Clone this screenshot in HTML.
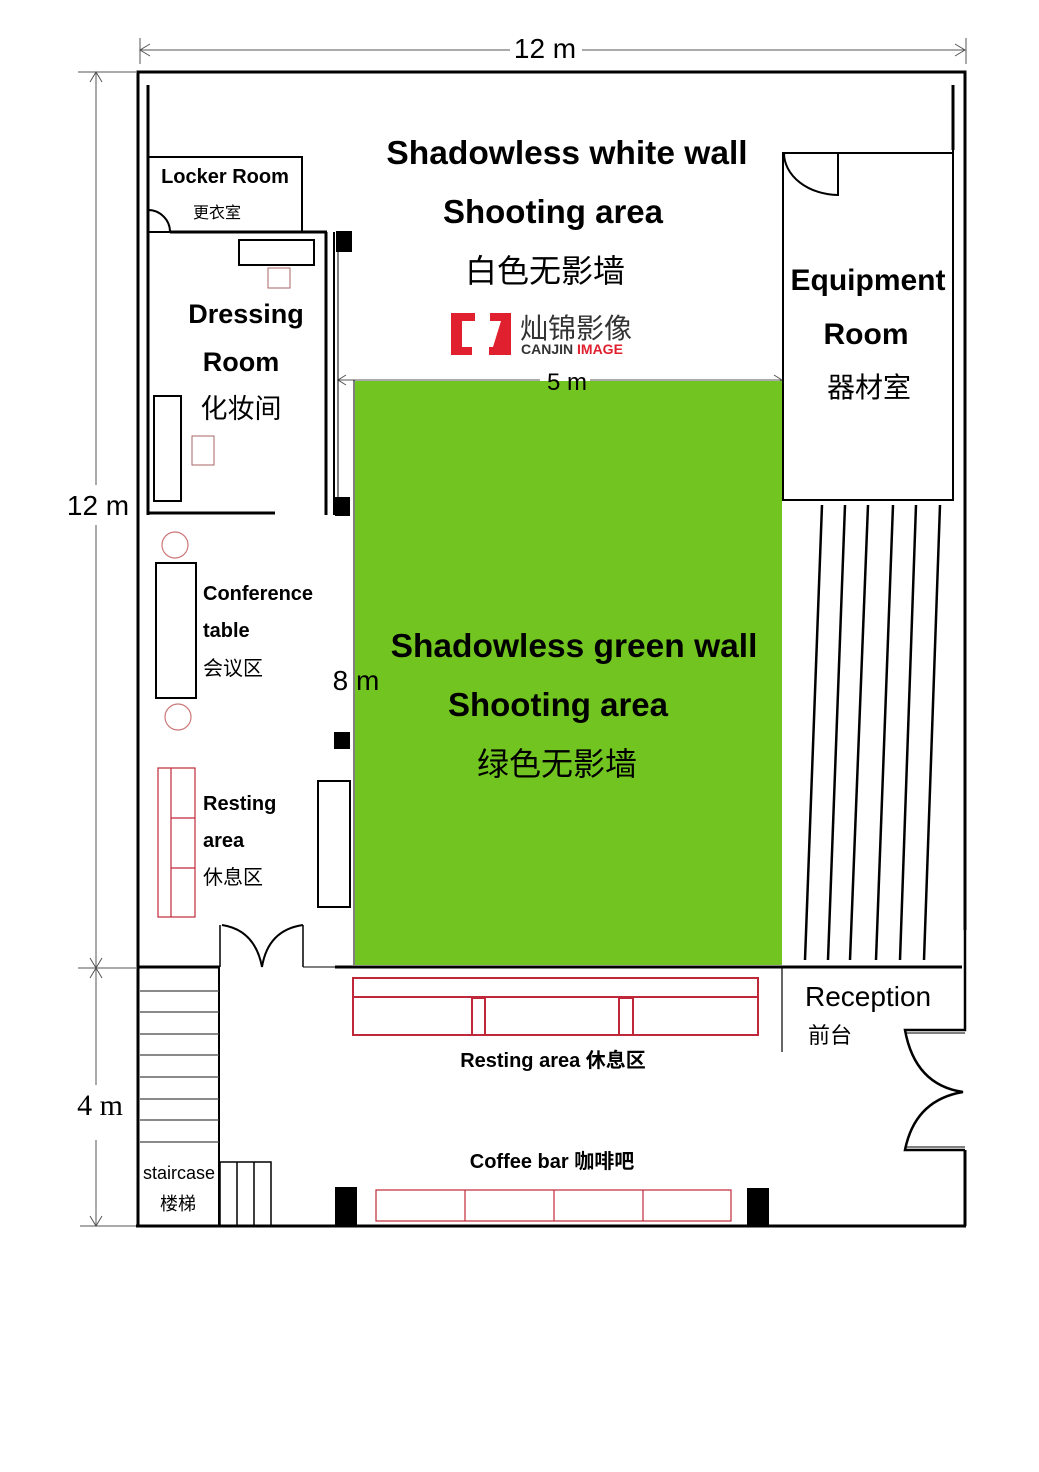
<!DOCTYPE html><html><head><meta charset="utf-8"><style>
body{margin:0;background:#fff}
svg text{font-family:"Liberation Sans","Noto Sans CJK SC",sans-serif}
.b{font-weight:bold}
</style></head><body>
<svg width="1039" height="1467" viewBox="0 0 1039 1467" xmlns="http://www.w3.org/2000/svg">
<rect width="1039" height="1467" fill="#fff"/>
<g stroke="#555" stroke-width="1" fill="none">
<line x1="140" y1="50" x2="510" y2="50"/><line x1="582" y1="50" x2="965" y2="50"/>
<line x1="140" y1="38" x2="140" y2="64"/><line x1="966" y1="38" x2="966" y2="64"/>
<polyline points="150,44 140,50 150,56"/><polyline points="955,44 965,50 955,56"/>
<line x1="96" y1="72" x2="96" y2="485"/><line x1="96" y1="525" x2="96" y2="1085"/><line x1="96" y1="1140" x2="96" y2="1226"/>
<line x1="78" y1="72" x2="136" y2="72"/><line x1="78" y1="968" x2="136" y2="968"/><line x1="80" y1="1226" x2="136" y2="1226"/>
<polyline points="90,82 96,72 102,82"/><polyline points="90,958 96,968 102,958"/><polyline points="90,978 96,968 102,978"/><polyline points="90,1216 96,1226 102,1216"/>
<line x1="338" y1="380" x2="540" y2="380"/><line x1="590" y1="380" x2="782" y2="380"/>
<polyline points="346,375 338,380 346,385"/><polyline points="774,375 782,380 774,385"/>
</g>
<text x="545" y="58" font-size="28" text-anchor="middle">12 m</text>
<text x="98" y="515" font-size="28" text-anchor="middle">12 m</text>
<text x="100" y="1115" font-size="30" text-anchor="middle" style="font-family:'Liberation Serif',serif">4 m</text>
<rect x="355" y="381" width="427" height="584" fill="#72c520"/>
<text x="567" y="390" font-size="24" text-anchor="middle">5 m</text>
<text x="356" y="690" font-size="28" text-anchor="middle">8 m</text>
<g stroke="#000" fill="none" stroke-width="3">
<polyline points="138,1226 138,72 965,72 965,930"/>
<line x1="965" y1="1150" x2="965" y2="1226"/>
<line x1="136" y1="1226" x2="966" y2="1226"/>
<line x1="148" y1="85" x2="148" y2="515"/>
<line x1="953" y1="85" x2="953" y2="150"/>
<line x1="138" y1="967" x2="220" y2="967"/>
<line x1="335" y1="967" x2="962" y2="967"/>
<line x1="148" y1="513" x2="275" y2="513"/>
<line x1="326" y1="232" x2="326" y2="515"/>
<line x1="170" y1="232" x2="327" y2="232"/>
</g>
<g stroke="#000" fill="none" stroke-width="2">
<rect x="148" y="157" width="154" height="75"/>
<path d="M148,210 A22,22 0 0 1 170,232"/>
<line x1="334" y1="232" x2="334" y2="515"/>
<rect x="239" y="240" width="75" height="25"/>
<rect x="154" y="396" width="27" height="105"/>
<rect x="783" y="153" width="170" height="347"/>
<line x1="953" y1="150" x2="953" y2="500"/>
<path d="M784,153 A55,42 0 0 0 838,195 L838,153"/>
<rect x="156" y="563" width="40" height="135"/>
<circle cx="175" cy="545" r="13" stroke="#c77" stroke-width="1.2"/>
<circle cx="178" cy="717" r="13" stroke="#c77" stroke-width="1.2"/>
<rect x="318" y="781" width="32" height="126"/>
<line x1="220" y1="925" x2="220" y2="967" stroke-width="1.5"/>
<line x1="303" y1="925" x2="303" y2="967" stroke-width="1.5"/>
<path d="M222,925 Q255,930 262,967 Q268,930 303,925"/>
<line x1="303" y1="967" x2="335" y2="967" stroke-width="1"/>
<line x1="219" y1="967" x2="219" y2="1226"/>
<line x1="782" y1="967" x2="782" y2="1052" stroke-width="1.2"/>
<path d="M965,930 L965,1030 L905,1030 Q915,1085 963,1092 Q915,1100 905,1150 L965,1150" stroke-width="2.5"/>
<line x1="905" y1="1033" x2="965" y2="1033" stroke-width="1"/>
<line x1="905" y1="1147" x2="965" y2="1147" stroke-width="1"/>
<rect x="220" y="1162" width="51" height="64" stroke-width="1.5"/>
<line x1="237" y1="1162" x2="237" y2="1226" stroke-width="1.5"/>
<line x1="254" y1="1162" x2="254" y2="1226" stroke-width="1.5"/>
</g>
<line x1="338" y1="252" x2="338" y2="498" stroke="#000" stroke-width="1"/>
<line x1="354" y1="380" x2="354" y2="965" stroke="#000" stroke-width="1"/>
<g stroke="#000" stroke-width="2.5">
<line x1="822" y1="505" x2="805" y2="960"/><line x1="845" y1="505" x2="828" y2="960"/>
<line x1="868" y1="505" x2="850" y2="960"/><line x1="893" y1="505" x2="876" y2="960"/>
<line x1="916" y1="505" x2="900" y2="960"/><line x1="940" y1="505" x2="924" y2="960"/>
</g>
<g stroke="#444" stroke-width="1.2">
<line x1="140" y1="991" x2="219" y2="991"/><line x1="140" y1="1012" x2="219" y2="1012"/>
<line x1="140" y1="1034" x2="219" y2="1034"/><line x1="140" y1="1055" x2="219" y2="1055"/>
<line x1="140" y1="1077" x2="219" y2="1077"/><line x1="140" y1="1099" x2="219" y2="1099"/>
<line x1="140" y1="1120" x2="219" y2="1120"/><line x1="140" y1="1142" x2="219" y2="1142"/>
</g>
<g fill="#000">
<rect x="336" y="231" width="16" height="21"/><rect x="335" y="497" width="15" height="19"/>
<rect x="334" y="732" width="16" height="17"/>
<rect x="335" y="1187" width="22" height="39"/><rect x="747" y="1188" width="22" height="38"/>
</g>
<g stroke="#c0283a" fill="none" stroke-width="2">
<rect x="353" y="978" width="405" height="57"/><line x1="353" y1="997" x2="758" y2="997"/>
<rect x="472" y="998" width="13" height="37"/><rect x="619" y="998" width="14" height="37"/>
</g>
<g stroke="#c0283a" fill="none" stroke-width="1.2">
<rect x="376" y="1190" width="355" height="31"/>
<line x1="465" y1="1190" x2="465" y2="1221"/><line x1="554" y1="1190" x2="554" y2="1221"/><line x1="643" y1="1190" x2="643" y2="1221"/>
<rect x="158" y="768" width="37" height="149"/><line x1="171" y1="768" x2="171" y2="917"/>
<line x1="171" y1="818" x2="195" y2="818"/><line x1="171" y1="868" x2="195" y2="868"/>
</g>
<g stroke="#a66" fill="none" stroke-width="1">
<rect x="268" y="268" width="22" height="20"/><rect x="192" y="436" width="22" height="29"/>
</g>
<g fill="#e0202f">
<path d="M451,313 h24 v8 h-13 v26 h10 v8 h-21z"/>
<path d="M511,313 h-21 v8 h11 l-8 26 h-4 v8 h22z"/>
</g>
<text x="520" y="338" font-size="28" fill="#333">灿锦影像</text>
<text x="521" y="354" font-size="14" font-weight="bold" fill="#333">CANJIN <tspan fill="#e0202f">IMAGE</tspan></text>
<g text-anchor="middle" class="b" font-weight="bold">
<text x="567" y="164" font-size="33.5">Shadowless white wall</text>
<text x="553" y="223" font-size="33">Shooting area</text>
<text x="574" y="657" font-size="33.5">Shadowless green wall</text>
<text x="558" y="716" font-size="33">Shooting area</text>
<text x="246" y="323" font-size="27">Dressing</text>
<text x="241" y="371" font-size="27">Room</text>
<text x="868" y="290" font-size="30">Equipment</text>
<text x="866" y="344" font-size="30">Room</text>
<text x="225" y="183" font-size="20">Locker Room</text>
</g>
<g text-anchor="middle">
<text x="545" y="282" font-size="32">白色无影墙</text>
<text x="557" y="775" font-size="32">绿色无影墙</text>
<text x="241" y="418" font-size="27">化妆间</text>
<text x="869" y="397" font-size="28">器材室</text>
<text x="217" y="218" font-size="16">更衣室</text>
<text x="553" y="1067" font-size="20" font-weight="bold">Resting area 休息区</text>
<text x="552" y="1168" font-size="20" font-weight="bold">Coffee bar 咖啡吧</text>
<text x="179" y="1179" font-size="18">staircase</text>
<text x="178" y="1210" font-size="18">楼梯</text>
</g>
<g font-weight="bold" font-size="20">
<text x="203" y="600">Conference</text><text x="203" y="637">table</text>
<text x="203" y="810">Resting</text><text x="203" y="847">area</text>
</g>
<g font-size="20">
<text x="203" y="675">会议区</text><text x="203" y="884">休息区</text>
</g>
<text x="805" y="1006" font-size="28">Reception</text>
<text x="808" y="1043" font-size="22">前台</text>
</svg>
</body></html>
